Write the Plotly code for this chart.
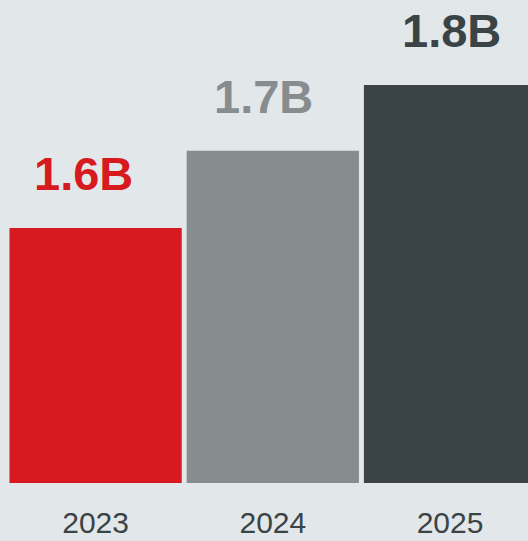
import plotly.graph_objects as go

years = ["2023", "2024", "2025"]
values = [1.60, 1.70, 1.785]
labels = ["1.6B", "1.7B", "1.8B"]
colors = ["#D71920", "#878D8F", "#3A4446"]

label_xshift = [-12, -9, 1]

fig = go.Figure()
fig.add_trace(go.Bar(x=years, y=values, marker=dict(color=colors, line=dict(width=0)),
                     hoverinfo="skip"))

for i, (v, lab, c) in enumerate(zip(values, labels, colors)):
    fig.add_annotation(x=i, y=v, xref="x", yref="y", text="<b>" + lab + "</b>",
                       showarrow=False, yanchor="bottom", yshift=26, xshift=label_xshift[i],
                       font=dict(family="Liberation Sans, Arial", size=47, color=c))

fig.update_layout(
    width=528, height=541,
    margin=dict(l=7, r=0, t=0, b=58),
    paper_bgcolor="#E2E7EA", plot_bgcolor="#E2E7EA",
    bargap=0.028,
    showlegend=False,
    xaxis=dict(type="category", range=[-0.5, 2.44], showgrid=False, zeroline=False, showline=False,
               tickfont=dict(family="Liberation Sans, Arial", size=30, color="#3A4446"),
               ticks="", ticklabelstandoff=19),
    yaxis=dict(range=[1.27, 1.895], showgrid=False, zeroline=False, showline=False,
               showticklabels=False, ticks=""),
)
fig.write_html("out.html", config={"displayModeBar": False},
               post_script="document.body.style.margin='0';")
